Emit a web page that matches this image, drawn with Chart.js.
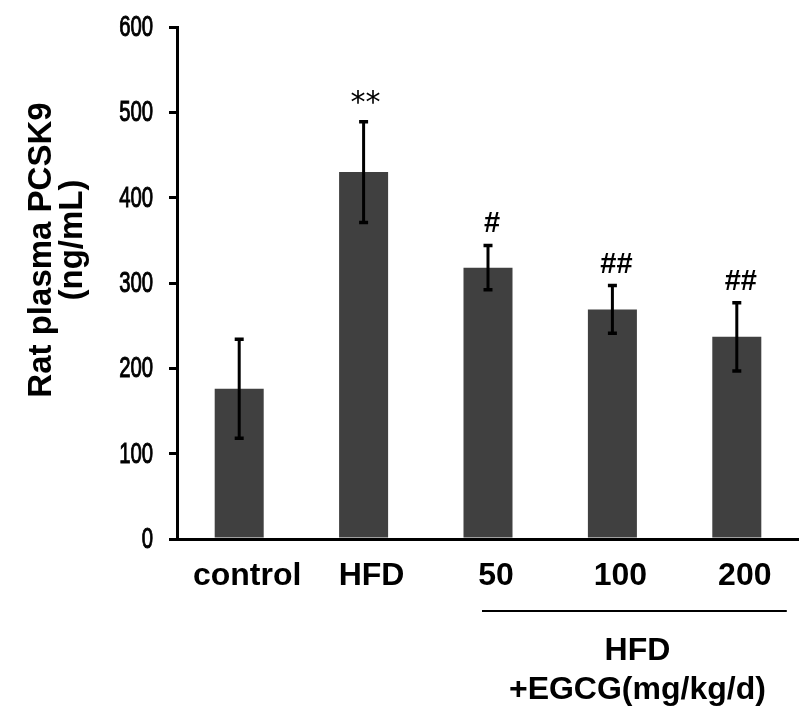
<!DOCTYPE html>
<html><head><meta charset="utf-8">
<script src="https://cdn.jsdelivr.net/npm/chart.js@4"></script>
<style>html,body{margin:0;padding:0;background:#fff;overflow:hidden}</style>
</head><body>
<canvas id="c" width="799" height="716"></canvas>
<script>
const categories = ['control', 'HFD', '50', '100', '200'];
const meanValues = [176, 430, 318, 269, 237];
const errorValues = [58, 59, 26, 28, 40];
const significance = ['', '**', '#', '##', '##'];
const yTicks = [0, 100, 200, 300, 400, 500, 600];
const yTitle = ['Rat plasma PCSK9', '(ng/mL)'];
const groupLabel = ['HFD', '+EGCG(mg/kg/d)'];

const BOLD = "'Liberation Sans', Arial, sans-serif";

const errorBarPlugin = {
  id: 'errorBars',
  afterDatasetsDraw(chart) {
    const ctx = chart.ctx;
    const meta = chart.getDatasetMeta(0);
    const ys = chart.scales.y;
    ctx.save();
    ctx.strokeStyle = '#000';
    meta.data.forEach((bar, i) => {
      const x = bar.x;
      const top = ys.getPixelForValue(meanValues[i] + errorValues[i]);
      const bot = ys.getPixelForValue(meanValues[i] - errorValues[i]);
      ctx.lineWidth = 3;
      ctx.beginPath();
      ctx.moveTo(x, top); ctx.lineTo(x, bot);
      ctx.stroke();
      ctx.lineWidth = 3.5;
      ctx.beginPath();
      ctx.moveTo(x - 4.5, top); ctx.lineTo(x + 4.5, top);
      ctx.moveTo(x - 4.5, bot); ctx.lineTo(x + 4.5, bot);
      ctx.stroke();
      const s = significance[i];
      if (s) {
        ctx.fillStyle = '#000';
        ctx.textAlign = 'center';
        ctx.textBaseline = 'middle';
        if (s.indexOf('*') >= 0) {
          ctx.font = "30px 'DejaVu Sans', sans-serif";
          ctx.fillText(s, x + 2, top - 18);
        } else {
          ctx.font = "bold 29px " + BOLD;
          ctx.fillText(s, x + 4, top - 21);
        }
      }
    });
    ctx.restore();
  }
};

const decorPlugin = {
  id: 'decor',
  afterDraw(chart) {
    const ctx = chart.ctx;
    const xs = chart.scales.x;
    const ys = chart.scales.y;
    ctx.save();
    ctx.fillStyle = '#000';
    ctx.strokeStyle = '#000';
    // y tick labels (condensed)
    ctx.font = "29px " + BOLD;
    ctx.textAlign = 'right';
    ctx.textBaseline = 'middle';
    ctx.lineWidth = 1;
    ys.ticks.forEach(t => {
      const y = ys.getPixelForValue(t.value);
      ctx.save();
      ctx.translate(153, y);
      ctx.scale(0.7, 1);
      ctx.fillText(String(t.value), 0, 1);
      ctx.strokeText(String(t.value), 0, 1);
      ctx.restore();
    });
    // y title
    ctx.font = "bold 33px " + BOLD;
    ctx.textAlign = 'center';
    ctx.textBaseline = 'middle';
    ctx.save(); ctx.translate(42, 250); ctx.rotate(-Math.PI / 2); ctx.fillText(yTitle[0], 0, 0); ctx.restore();
    ctx.save(); ctx.translate(73, 240); ctx.rotate(-Math.PI / 2); ctx.fillText(yTitle[1], 0, 0); ctx.restore();
    // group bracket
    const x1 = xs.getPixelForValue(2) - 6;
    const x2 = xs.getPixelForValue(4) + 50;
    ctx.lineWidth = 2;
    ctx.beginPath(); ctx.moveTo(x1, 611); ctx.lineTo(x2, 611); ctx.stroke();
    const cx = (x1 + x2) / 2 + 3;
    ctx.font = "bold 32px " + BOLD;
    ctx.fillText(groupLabel[0], cx, 651);
    ctx.fillText(groupLabel[1], cx, 690);
    ctx.restore();
  }
};

new Chart(document.getElementById('c'), {
  type: 'bar',
  data: {
    labels: categories,
    datasets: [{
      data: meanValues,
      backgroundColor: '#404040',
      borderWidth: 0,
      barPercentage: 0.394,
      categoryPercentage: 1
    }]
  },
  options: {
    responsive: false,
    animation: false,
    devicePixelRatio: 1,
    layout: { padding: { top: 27, left: 0, right: 0, bottom: 0 } },
    plugins: { legend: { display: false }, tooltip: { enabled: false } },
    scales: {
      x: {
        grid: { display: false, drawTicks: false },
        border: { display: true, color: '#000', width: 3 },
        ticks: {
          color: '#000',
          font: { family: BOLD, size: 32, weight: 'bold' },
          padding: 18,
          labelOffset: 8,
          maxRotation: 0,
          autoSkip: false
        },
        afterFit(scale) { scale.height = 177; }
      },
      y: {
        min: 0,
        max: 600,
        afterBuildTicks(scale) { scale.ticks = yTicks.map(v => ({ value: v })); },
        grid: { drawOnChartArea: false, drawTicks: true, tickLength: 8, color: '#000', lineWidth: 3 },
        border: { display: true, color: '#000', width: 3 },
        ticks: { display: false },
        afterFit(scale) { scale.width = 177; }
      }
    }
  },
  plugins: [errorBarPlugin, decorPlugin]
});
</script>
</body></html>
